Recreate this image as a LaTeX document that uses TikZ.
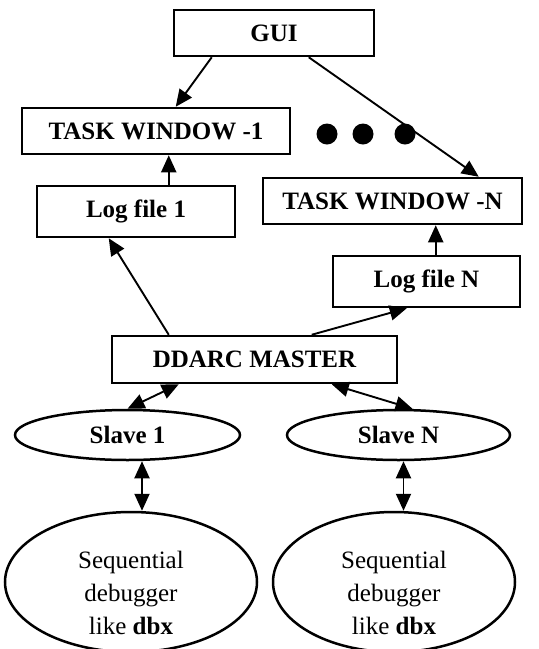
\documentclass[tikz,border=0pt]{standalone}
\usepackage{fontspec}
\setmainfont{Liberation Serif}
\usetikzlibrary{arrows.meta,shapes.geometric,calc}
\tikzset{
  box/.style={draw, line width=2.5pt, rectangle, inner sep=0pt, align=center,
    font=\fontsize{25}{30}\selectfont\bfseries},
  oval/.style={draw, line width=2.5pt, ellipse, inner sep=0pt, align=center,
    font=\fontsize{25}{30}\selectfont\bfseries},
  seqoval/.style={draw, line width=2.5pt, ellipse, inner sep=0pt},
  seqtext/.style={align=center, font=\fontsize{25}{33}\selectfont},
  dot/.style={circle, fill=black, inner sep=0pt, minimum size=21pt},
  conn/.style={line width=1.9pt, -{Triangle[length=17pt,width=15pt]}},
  bconn/.style={line width=1.9pt, {Triangle[length=17pt,width=15pt]}-{Triangle[length=17pt,width=15pt]}},
}
\begin{document}
\begin{tikzpicture}[x=1pt,y=-1pt]
\useasboundingbox (0,0) rectangle (539,649);
\fill[white] (0,0) rectangle (539,649);

\node[box, minimum width=200pt, minimum height=46pt] (gui) at (274,33) {GUI};
\node[box, minimum width=268pt, minimum height=46pt] (tw1) at (156,131) {TASK WINDOW -1};
\node[box, minimum width=259pt, minimum height=46pt] (twn) at (392.5,201) {TASK WINDOW -N};
\node[box, minimum width=198pt, minimum height=51pt] (log1) at (136,211.5) {Log file 1};
\node[box, minimum width=187pt, minimum height=51pt] (logn) at (426.5,281.5) {Log file N};
\node[box, minimum width=285pt, minimum height=47pt] (master) at (254.5,359.5) {DDARC MASTER};
\node[oval, minimum width=225pt, minimum height=50pt] (s1) at (127.5,435) {Slave 1};
\node[oval, minimum width=223pt, minimum height=50pt] (sn) at (398.5,435) {Slave N};
\node[seqoval, minimum width=252pt, minimum height=140pt,
  label={[seqtext, yshift=-11pt]center:Sequential\\debugger\\like \textbf{dbx}}] (q1) at (131,582) {};
\node[seqoval, minimum width=242pt, minimum height=140pt,
  label={[seqtext, yshift=-11pt]center:Sequential\\debugger\\like \textbf{dbx}}] (qn) at (394,582) {};

\node[dot] (d1) at (327,134) {};
\node[dot] (d2) at (363,134) {};
\node[dot] (d3) at (405,134) {};

% GUI to task windows
\draw[conn] ([xshift=39pt]gui.south west) -- ([xshift=155pt]tw1.north west);
\draw[conn] ([xshift=136pt]gui.south west) -- ([xshift=217pt]twn.north west);

% log files to task windows
\coordinate (a1) at ([xshift=133pt]log1.north west);
\draw[conn] (a1) -- (a1 |- tw1.south);
\coordinate (an) at ([xshift=104pt]logn.north west);
\draw[conn] (an) -- (an |- twn.south);

% master to log files
\draw[conn] ([xshift=58pt]master.north west) -- ([xshift=73pt]log1.south west);
\draw[conn] ([xshift=201pt]master.north west) -- ([xshift=75pt]logn.south west);

% master to slaves
\draw[bconn] ([xshift=68pt]master.south west) -- (s1.north);
\draw[bconn] ([xshift=221pt]master.south west) -- ([xshift=14pt]sn.north);

% slaves to debuggers
\coordinate (b1) at ([xshift=14.5pt]s1.south);
\draw[bconn] (b1) -- (b1 |- q1.north);
\coordinate (bn) at ([xshift=5pt]sn.south);
\draw[bconn] (bn) -- (bn |- qn.north);
\end{tikzpicture}
\end{document}
